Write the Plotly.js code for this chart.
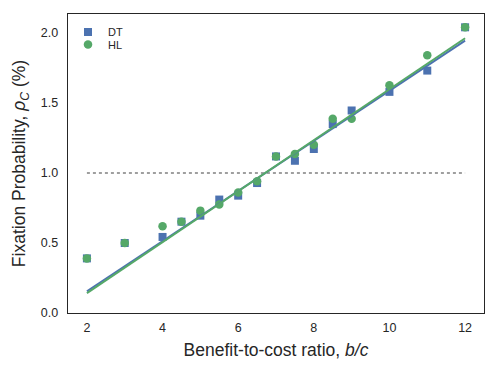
<!DOCTYPE html>
<html>
<head>
<meta charset="utf-8">
<script src="https://cdn.plot.ly/plotly-3.0.1.min.js"></script>
<style>html,body{margin:0;padding:0;background:#fff;}#chart{width:498px;height:374px;}</style>
</head>
<body>
<div id="chart"></div>
<script>
const bcRatio = [2, 3, 4, 4.5, 5, 5.5, 6, 6.5, 7, 7.5, 8, 8.5, 9, 10, 11, 12];
const dtValues = [0.39, 0.50, 0.543, 0.652, 0.695, 0.81, 0.838, 0.928, 1.118, 1.087, 1.171, 1.349, 1.446, 1.579, 1.731, 2.04];
const hlValues = [0.39, 0.50, 0.619, 0.652, 0.731, 0.774, 0.861, 0.94, 1.118, 1.135, 1.201, 1.387, 1.387, 1.627, 1.841, 2.04];
const fitX = [2, 12];
const dtFit = [0.155, 1.945];
const hlFit = [0.142, 1.962];
const neutralX = [2, 12];
const neutralY = [1.0, 1.0];
const xTicks = [2, 4, 6, 8, 10, 12];
const yTicks = [0.0, 0.5, 1.0, 1.5, 2.0];

const blue = '#4C72B0', green = '#55A868';
const traces = [
  {x: neutralX, y: neutralY, mode: 'lines', line: {color: '#808080', width: 1.6, dash: 'dot'}, showlegend: false, hoverinfo: 'skip'},
  {x: bcRatio, y: dtValues, mode: 'markers', name: 'DT', legend: 'legend', marker: {symbol: 'square', size: 8, color: blue, line: {width: 0}}},
  {x: bcRatio, y: hlValues, mode: 'markers', name: 'HL', legend: 'legend2', marker: {symbol: 'circle', size: 8.5, color: green, line: {width: 0}}},
  {x: fitX, y: dtFit, mode: 'lines', line: {color: blue, width: 2}, showlegend: false},
  {x: fitX, y: hlFit, mode: 'lines', line: {color: green, width: 2}, showlegend: false}
];
const legendBase = {xanchor: 'left', yanchor: 'middle', bgcolor: 'rgba(0,0,0,0)', font: {size: 11, color: '#262626'}, itemwidth: 30};
const layout = {
  width: 498, height: 374,
  margin: {l: 68, r: 14, t: 14, b: 61},
  paper_bgcolor: '#fff', plot_bgcolor: '#fff',
  font: {family: 'Liberation Sans, Arial, sans-serif', color: '#262626', size: 12},
  showlegend: true,
  legend: Object.assign({x: 0.0, y: 0.94}, legendBase),
  legend2: Object.assign({x: 0.0, y: 0.898}, legendBase),
  xaxis: {
    range: [1.5, 12.5], tickvals: xTicks, ticktext: xTicks.map(String),
    showgrid: false, zeroline: false, showline: true, mirror: true, linecolor: '#262626', linewidth: 1.25,
    ticks: '', ticklabelstandoff: 3, tickfont: {size: 12.5, color: '#262626'},
    title: {text: 'Benefit-to-cost ratio, <i>b/c</i>', font: {size: 17.5, color: '#262626'}, standoff: 9}
  },
  yaxis: {
    range: [0, 2.135], tickvals: yTicks, ticktext: yTicks.map(v => v.toFixed(1)),
    showgrid: false, zeroline: false, showline: true, mirror: true, linecolor: '#262626', linewidth: 1.25,
    ticks: '', ticklabelstandoff: 6, tickfont: {size: 12.5, color: '#262626'},
    title: {text: 'Fixation Probability, <i>ρ<sub>C</sub></i> (%)', font: {size: 17.5, color: '#262626'}, standoff: 10}
  }
};
Plotly.newPlot('chart', traces, layout, {displayModeBar: false, staticPlot: true});
</script>
</body>
</html>
